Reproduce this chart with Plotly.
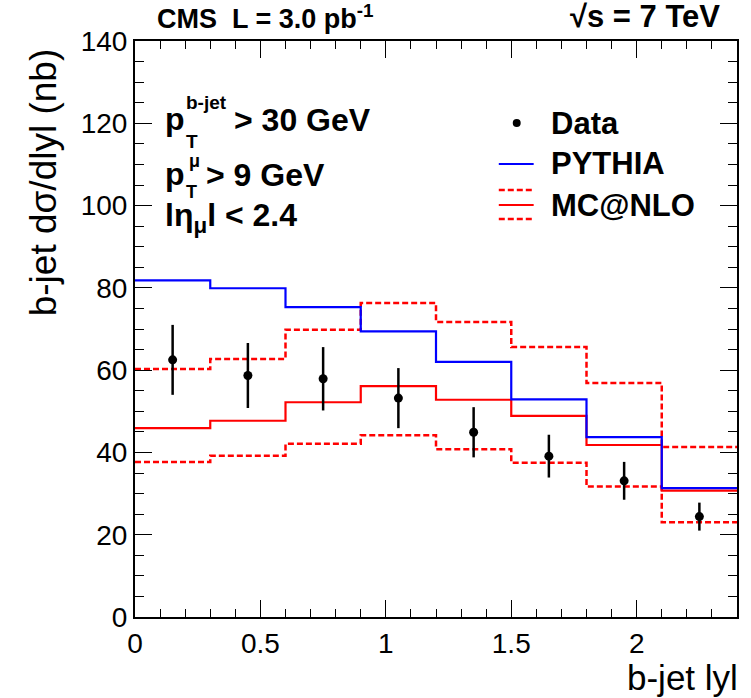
import plotly.graph_objects as go

# ---- data ----
bin_edges = [0.0, 0.3, 0.6, 0.9, 1.2, 1.5, 1.8, 2.1, 2.4]
bin_centers = [0.15, 0.45, 0.75, 1.05, 1.35, 1.65, 1.95, 2.25]
data_vals = [62.5, 58.7, 57.9, 53.2, 44.9, 39.1, 33.1, 24.4]
data_errs = [8.5, 7.9, 7.7, 7.3, 6.1, 5.2, 4.6, 3.4]
pythia_vals = [81.8, 79.9, 75.3, 69.4, 62.0, 52.9, 43.7, 31.3]
mcnlo_vals = [45.9, 47.7, 52.2, 56.1, 52.8, 48.9, 41.8, 30.7]
mcnlo_up = [60.3, 62.7, 69.8, 76.3, 71.7, 65.6, 56.9, 41.3]
mcnlo_down = [37.7, 39.2, 42.1, 44.2, 40.8, 37.5, 31.7, 23.0]
x_tickvals = [0, 0.5, 1, 1.5, 2]
x_ticktext = ["0", "0.5", "1", "1.5", "2"]
y_tickvals = [0, 20, 40, 60, 80, 100, 120, 140]

FONT = "Liberation Sans, Arial, Helvetica, sans-serif"

def step_y(v):
    return list(v) + [v[-1]]

fig = go.Figure()

fig.add_trace(go.Scatter(x=bin_edges, y=step_y(mcnlo_up), mode="lines", line_shape="hv",
                         line=dict(color="#ff0000", width=2.5, dash="6px,3px"), showlegend=False))
fig.add_trace(go.Scatter(x=bin_edges, y=step_y(mcnlo_down), mode="lines", line_shape="hv",
                         line=dict(color="#ff0000", width=2.5, dash="6px,3px"), showlegend=False))
fig.add_trace(go.Scatter(x=bin_edges, y=step_y(mcnlo_vals), mode="lines", line_shape="hv",
                         line=dict(color="#ff0000", width=2.2), showlegend=False))
fig.add_trace(go.Scatter(x=bin_edges, y=step_y(pythia_vals), mode="lines", line_shape="hv",
                         line=dict(color="#0000ff", width=2.2), showlegend=False))
fig.add_trace(go.Scatter(x=bin_centers, y=data_vals, mode="markers",
                         marker=dict(color="black", size=9),
                         error_y=dict(type="data", array=data_errs, thickness=2.5, width=0, color="black"),
                         showlegend=False))

L, R, T, B = 135, 12, 41, 81
W, H = 751, 698
PW, PH = W - L - R, H - T - B

def px(x):
    return (x - L) / PW

def py(y):
    return (H - B - y) / PH

annotations = []

def txt(text, x, y, size, xanchor="left", bold=True, yanchor="middle", angle=0):
    annotations.append(dict(text=("<b>%s</b>" % text) if bold else text,
                            x=px(x), y=py(y), xref="paper", yref="paper",
                            xanchor=xanchor, yanchor=yanchor, showarrow=False,
                            textangle=angle, borderpad=0,
                            font=dict(family=FONT, size=size, color="black")))

# top titles
txt("CMS  L = 3.0 pb<sup>-1</sup>", 156, 17, 27)
txt("\u221As = 7 TeV", 723, 17, 31, xanchor="right")

# cut labels
txt("p", 164, 119, 32)
txt("b-jet", 185, 103, 19)
txt("T", 185, 141, 19)
txt("> 30 GeV", 233, 120, 32)

txt("p", 164, 174, 32)
txt("\u03bc", 188, 161, 18)
txt("T", 185, 192, 18)
txt("> 9 GeV", 205, 175, 32)

txt("l\u03b7<sub>\u03bc</sub>l < 2.4", 164, 218, 32)

# legend
txt("Data", 551, 123, 31)
txt("PYTHIA", 551, 164, 31)
txt("MC@NLO", 551, 205, 31)

# axis titles
txt("b-jet lyl", 741, 677, 35, xanchor="right", bold=False)
txt("b-jet d\u03c3/dlyl (nb)", 44, 182, 37, xanchor="center", bold=False, angle=-90)

shapes = [
    dict(type="circle", xref="paper", yref="paper",
         x0=px(514), x1=px(522), y0=py(119), y1=py(127),
         fillcolor="black", line=dict(color="black", width=0)),
    dict(type="line", xref="paper", yref="paper", x0=px(500), x1=px(535), y0=py(164), y1=py(164),
         line=dict(color="#0000ff", width=2.2)),
    dict(type="line", xref="paper", yref="paper", x0=px(500), x1=px(535), y0=py(190), y1=py(190),
         line=dict(color="#ff0000", width=2.5, dash="6px,3px")),
    dict(type="line", xref="paper", yref="paper", x0=px(500), x1=px(535), y0=py(205), y1=py(205),
         line=dict(color="#ff0000", width=2.2)),
    dict(type="line", xref="paper", yref="paper", x0=px(500), x1=px(535), y0=py(219), y1=py(219),
         line=dict(color="#ff0000", width=2.5, dash="6px,3px")),
]

axis_common = dict(showline=True, linewidth=2, linecolor="black", mirror="ticks",
                   ticks="inside", ticklen=17, tickwidth=1.2, tickcolor="black",
                   showgrid=False, zeroline=False,
                   tickfont=dict(family=FONT, size=28, color="black"))

fig.update_xaxes(range=[0, 2.4], tickvals=x_tickvals, ticktext=x_ticktext,
                 minor=dict(ticks="inside", ticklen=8, dtick=0.1, tick0=0, tickcolor="black", tickwidth=1.2),
                 **axis_common)
fig.update_yaxes(range=[0, 140], tickvals=y_tickvals,
                 minor=dict(ticks="inside", ticklen=9, dtick=5, tick0=0, tickcolor="black", tickwidth=1.2),
                 **axis_common)

fig.update_layout(width=W, height=H, margin=dict(l=L, r=R, t=T, b=B),
                  paper_bgcolor="white", plot_bgcolor="white",
                  annotations=annotations, shapes=shapes, showlegend=False)

fig.write_html("out.html")
